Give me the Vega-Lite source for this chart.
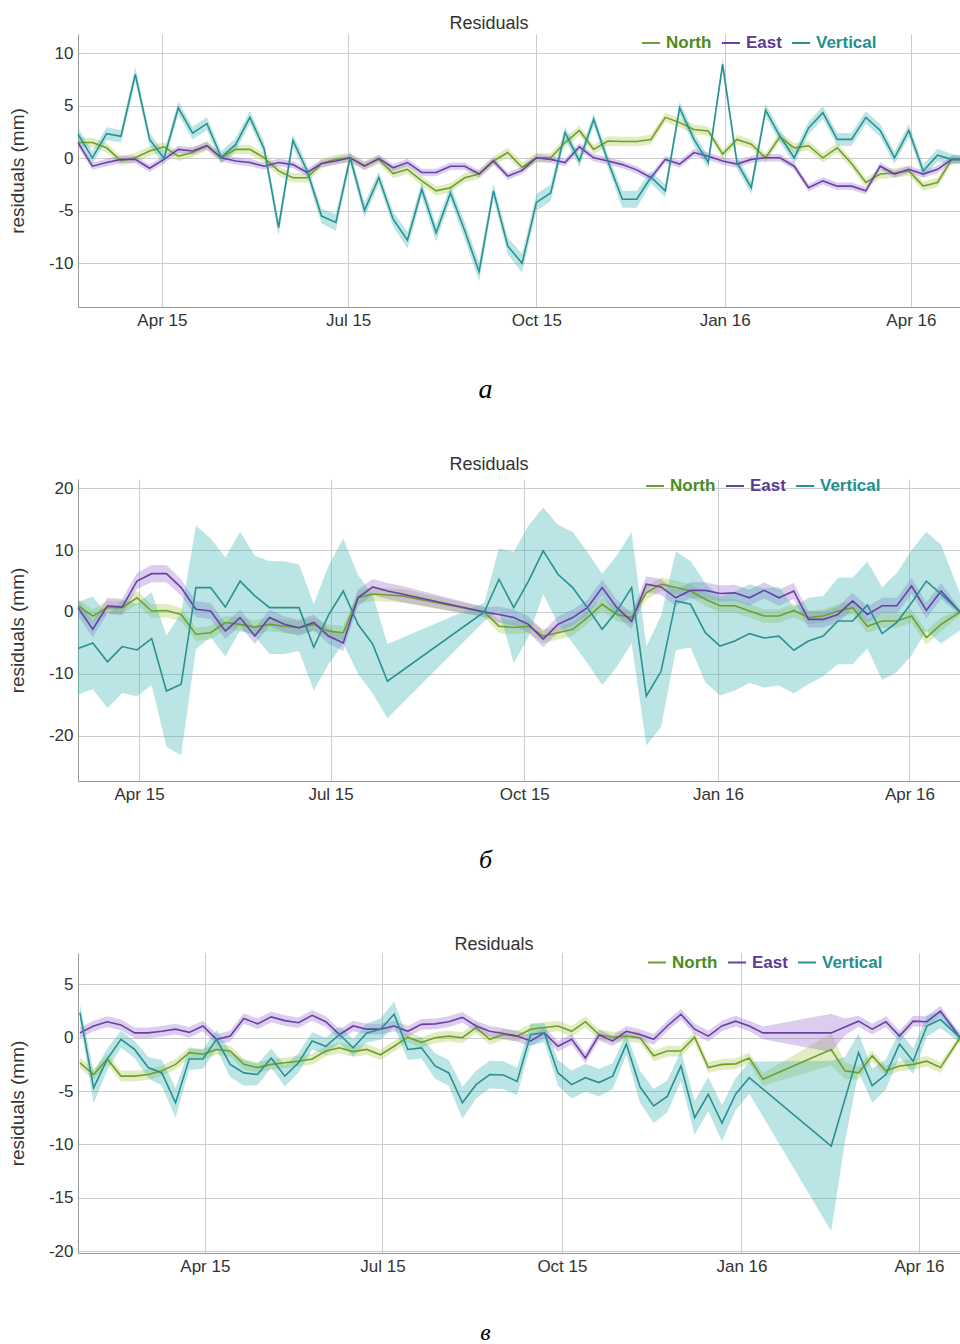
{
"$schema": "https://vega.github.io/schema/vega-lite/v6.json",
"background": "white",
"padding": {"left": 8, "top": 15, "right": 0, "bottom": 0},
"config": {
 "font": "Liberation Sans",
 "view": {"stroke": null},
 "axis": {"grid": true, "gridColor": "#cccccc", "gridWidth": 1, "domainColor": "#999999", "domainWidth": 1, "ticks": false, "labelFontSize": 17, "labelColor": "#333333", "labelPadding": 5, "labelFlush": false, "labelOverlap": false},
 "axisX": {"titleFont": "Liberation Serif", "titleFontStyle": "italic", "titleFontWeight": "normal", "titleColor": "#000000", "titleBaseline": "middle", "titleAlign": "center"},
 "axisY": {"titleFontSize": 19, "titleFontWeight": "normal", "titleColor": "#333333", "titlePadding": 21},
 "title": {"fontSize": 18, "fontWeight": "normal", "color": "#333333", "anchor": "middle", "baseline": "bottom"}
},
"datasets": {
"a": [
{"d":"2015-02-19","s":"N","v":1.5,"e":0.45},{"d":"2015-02-26","s":"N","v":1.5,"e":0.45},{"d":"2015-03-05","s":"N","v":1.0,"e":0.45},{"d":"2015-03-12","s":"N","v":-0.25,"e":0.45},{"d":"2015-03-19","s":"N","v":0.05,"e":0.45},{"d":"2015-03-26","s":"N","v":0.7,"e":0.45},{"d":"2015-04-02","s":"N","v":1.1,"e":0.45},{"d":"2015-04-09","s":"N","v":0.2,"e":0.45},{"d":"2015-04-16","s":"N","v":0.55,"e":0.45},{"d":"2015-04-23","s":"N","v":1.2,"e":0.45},
{"d":"2015-04-30","s":"N","v":0.05,"e":0.45},{"d":"2015-05-07","s":"N","v":0.85,"e":0.45},{"d":"2015-05-14","s":"N","v":0.85,"e":0.45},{"d":"2015-05-21","s":"N","v":0.05,"e":0.45},{"d":"2015-05-28","s":"N","v":-1.2,"e":0.45},{"d":"2015-06-04","s":"N","v":-1.85,"e":0.45},{"d":"2015-06-11","s":"N","v":-1.85,"e":0.45},{"d":"2015-06-18","s":"N","v":-0.5,"e":0.45},{"d":"2015-06-25","s":"N","v":-0.1,"e":0.45},{"d":"2015-07-02","s":"N","v":0.05,"e":0.45},
{"d":"2015-07-09","s":"N","v":-0.7,"e":0.45},{"d":"2015-07-16","s":"N","v":-0.1,"e":0.45},{"d":"2015-07-23","s":"N","v":-1.45,"e":0.45},{"d":"2015-07-30","s":"N","v":-1.05,"e":0.45},{"d":"2015-08-06","s":"N","v":-2.15,"e":0.45},{"d":"2015-08-13","s":"N","v":-3.1,"e":0.45},{"d":"2015-08-20","s":"N","v":-2.8,"e":0.45},{"d":"2015-08-27","s":"N","v":-1.85,"e":0.45},{"d":"2015-09-03","s":"N","v":-1.5,"e":0.45},{"d":"2015-09-10","s":"N","v":-0.25,"e":0.45},
{"d":"2015-09-17","s":"N","v":0.55,"e":0.45},{"d":"2015-09-24","s":"N","v":-0.85,"e":0.45},{"d":"2015-10-01","s":"N","v":0.05,"e":0.45},{"d":"2015-10-08","s":"N","v":0.05,"e":0.45},{"d":"2015-10-15","s":"N","v":1.5,"e":0.45},{"d":"2015-10-22","s":"N","v":2.65,"e":0.45},{"d":"2015-10-29","s":"N","v":0.85,"e":0.45},{"d":"2015-11-05","s":"N","v":1.65,"e":0.45},{"d":"2015-11-12","s":"N","v":1.6,"e":0.45},{"d":"2015-11-19","s":"N","v":1.6,"e":0.45},
{"d":"2015-11-26","s":"N","v":1.8,"e":0.45},{"d":"2015-12-03","s":"N","v":3.9,"e":0.45},{"d":"2015-12-10","s":"N","v":3.4,"e":0.45},{"d":"2015-12-17","s":"N","v":2.75,"e":0.45},{"d":"2015-12-24","s":"N","v":2.6,"e":0.45},{"d":"2015-12-31","s":"N","v":0.4,"e":0.45},{"d":"2016-01-07","s":"N","v":1.8,"e":0.45},{"d":"2016-01-14","s":"N","v":1.35,"e":0.45},{"d":"2016-01-21","s":"N","v":0.05,"e":0.45},{"d":"2016-01-28","s":"N","v":2.05,"e":0.45},
{"d":"2016-02-04","s":"N","v":1.0,"e":0.45},{"d":"2016-02-11","s":"N","v":1.2,"e":0.45},{"d":"2016-02-18","s":"N","v":0.05,"e":0.45},{"d":"2016-02-25","s":"N","v":1.0,"e":0.45},{"d":"2016-03-03","s":"N","v":-0.5,"e":0.45},{"d":"2016-03-10","s":"N","v":-2.3,"e":0.45},{"d":"2016-03-17","s":"N","v":-1.5,"e":0.45},{"d":"2016-03-24","s":"N","v":-1.4,"e":0.45},{"d":"2016-03-31","s":"N","v":-1.2,"e":0.45},{"d":"2016-04-07","s":"N","v":-2.65,"e":0.45},
{"d":"2016-04-14","s":"N","v":-2.3,"e":0.45},{"d":"2016-04-21","s":"N","v":-0.1,"e":0.45},{"d":"2016-04-25","s":"N","v":-0.1,"e":0.4},
{"d":"2015-02-19","s":"E","v":1.5,"e":0.35},{"d":"2015-02-26","s":"E","v":-0.75,"e":0.35},{"d":"2015-03-05","s":"E","v":-0.4,"e":0.35},{"d":"2015-03-12","s":"E","v":-0.1,"e":0.35},{"d":"2015-03-19","s":"E","v":-0.1,"e":0.35},{"d":"2015-03-26","s":"E","v":-0.95,"e":0.35},{"d":"2015-04-02","s":"E","v":-0.1,"e":0.35},{"d":"2015-04-09","s":"E","v":0.85,"e":0.35},{"d":"2015-04-16","s":"E","v":0.7,"e":0.35},{"d":"2015-04-23","s":"E","v":1.2,"e":0.35},
{"d":"2015-04-30","s":"E","v":0.05,"e":0.35},{"d":"2015-05-07","s":"E","v":-0.25,"e":0.35},{"d":"2015-05-14","s":"E","v":-0.4,"e":0.35},{"d":"2015-05-21","s":"E","v":-0.75,"e":0.35},{"d":"2015-05-28","s":"E","v":-0.4,"e":0.35},{"d":"2015-06-04","s":"E","v":-0.6,"e":0.35},{"d":"2015-06-11","s":"E","v":-1.35,"e":0.35},{"d":"2015-06-18","s":"E","v":-0.5,"e":0.35},{"d":"2015-06-25","s":"E","v":-0.25,"e":0.35},{"d":"2015-07-02","s":"E","v":0.05,"e":0.35},
{"d":"2015-07-09","s":"E","v":-0.75,"e":0.35},{"d":"2015-07-16","s":"E","v":0.0,"e":0.35},{"d":"2015-07-23","s":"E","v":-0.9,"e":0.35},{"d":"2015-07-30","s":"E","v":-0.4,"e":0.35},{"d":"2015-08-06","s":"E","v":-1.35,"e":0.35},{"d":"2015-08-13","s":"E","v":-1.35,"e":0.35},{"d":"2015-08-20","s":"E","v":-0.75,"e":0.35},{"d":"2015-08-27","s":"E","v":-0.75,"e":0.35},{"d":"2015-09-03","s":"E","v":-1.5,"e":0.35},{"d":"2015-09-10","s":"E","v":-0.25,"e":0.35},
{"d":"2015-09-17","s":"E","v":-1.7,"e":0.35},{"d":"2015-09-24","s":"E","v":-1.15,"e":0.35},{"d":"2015-10-01","s":"E","v":0.05,"e":0.35},{"d":"2015-10-08","s":"E","v":-0.1,"e":0.35},{"d":"2015-10-15","s":"E","v":-0.4,"e":0.35},{"d":"2015-10-22","s":"E","v":1.1,"e":0.35},{"d":"2015-10-29","s":"E","v":0.05,"e":0.35},{"d":"2015-11-05","s":"E","v":-0.25,"e":0.35},{"d":"2015-11-12","s":"E","v":-0.6,"e":0.35},{"d":"2015-11-19","s":"E","v":-1.1,"e":0.35},
{"d":"2015-11-26","s":"E","v":-1.85,"e":0.35},{"d":"2015-12-03","s":"E","v":-0.1,"e":0.35},{"d":"2015-12-10","s":"E","v":-0.55,"e":0.35},{"d":"2015-12-17","s":"E","v":0.55,"e":0.35},{"d":"2015-12-24","s":"E","v":0.2,"e":0.35},{"d":"2015-12-31","s":"E","v":-0.25,"e":0.35},{"d":"2016-01-07","s":"E","v":-0.55,"e":0.35},{"d":"2016-01-14","s":"E","v":-0.1,"e":0.35},{"d":"2016-01-21","s":"E","v":0.05,"e":0.35},{"d":"2016-01-28","s":"E","v":0.05,"e":0.35},
{"d":"2016-02-04","s":"E","v":-0.75,"e":0.35},{"d":"2016-02-11","s":"E","v":-2.8,"e":0.35},{"d":"2016-02-18","s":"E","v":-2.15,"e":0.35},{"d":"2016-02-25","s":"E","v":-2.65,"e":0.35},{"d":"2016-03-03","s":"E","v":-2.65,"e":0.35},{"d":"2016-03-10","s":"E","v":-3.1,"e":0.35},{"d":"2016-03-17","s":"E","v":-0.75,"e":0.35},{"d":"2016-03-24","s":"E","v":-1.5,"e":0.35},{"d":"2016-03-31","s":"E","v":-1.05,"e":0.35},{"d":"2016-04-07","s":"E","v":-1.5,"e":0.35},
{"d":"2016-04-14","s":"E","v":-1.05,"e":0.35},{"d":"2016-04-21","s":"E","v":-0.1,"e":0.35},{"d":"2016-04-25","s":"E","v":-0.1,"e":0.3},
{"d":"2015-02-19","s":"V","v":2.3,"e":0.6},{"d":"2015-02-26","s":"V","v":0.05,"e":0.6},{"d":"2015-03-05","s":"V","v":2.35,"e":0.6},{"d":"2015-03-12","s":"V","v":2.1,"e":0.6},{"d":"2015-03-19","s":"V","v":8.0,"e":0.7},{"d":"2015-03-26","s":"V","v":1.8,"e":0.6},{"d":"2015-04-02","s":"V","v":0.0,"e":0.6},{"d":"2015-04-09","s":"V","v":4.8,"e":0.6},{"d":"2015-04-16","s":"V","v":2.4,"e":0.6},{"d":"2015-04-23","s":"V","v":3.3,"e":0.6},
{"d":"2015-04-30","s":"V","v":0.1,"e":0.6},{"d":"2015-05-07","s":"V","v":1.3,"e":0.6},{"d":"2015-05-14","s":"V","v":3.9,"e":0.6},{"d":"2015-05-21","s":"V","v":0.9,"e":0.6},{"d":"2015-05-28","s":"V","v":-6.6,"e":0.8},{"d":"2015-06-04","s":"V","v":1.7,"e":0.6},{"d":"2015-06-11","s":"V","v":-1.2,"e":0.6},{"d":"2015-06-18","s":"V","v":-5.5,"e":0.7},{"d":"2015-06-25","s":"V","v":-6.1,"e":0.8},{"d":"2015-07-02","s":"V","v":0.05,"e":0.6},
{"d":"2015-07-09","s":"V","v":-4.95,"e":0.7},{"d":"2015-07-16","s":"V","v":-1.85,"e":0.6},{"d":"2015-07-23","s":"V","v":-5.8,"e":0.7},{"d":"2015-07-30","s":"V","v":-7.8,"e":0.8},{"d":"2015-08-06","s":"V","v":-2.95,"e":0.7},{"d":"2015-08-13","s":"V","v":-7.1,"e":0.8},{"d":"2015-08-20","s":"V","v":-3.3,"e":0.7},{"d":"2015-08-27","s":"V","v":-6.9,"e":0.8},{"d":"2015-09-03","s":"V","v":-10.8,"e":0.9},{"d":"2015-09-10","s":"V","v":-3.1,"e":0.7},
{"d":"2015-09-17","s":"V","v":-8.35,"e":0.8},{"d":"2015-09-24","s":"V","v":-10.0,"e":0.9},{"d":"2015-10-01","s":"V","v":-4.2,"e":0.8},{"d":"2015-10-08","s":"V","v":-3.3,"e":0.8},{"d":"2015-10-15","s":"V","v":2.45,"e":0.6},{"d":"2015-10-22","s":"V","v":-0.25,"e":0.6},{"d":"2015-10-29","s":"V","v":3.7,"e":0.6},{"d":"2015-11-05","s":"V","v":-0.3,"e":0.6},{"d":"2015-11-12","s":"V","v":-3.9,"e":0.8},{"d":"2015-11-19","s":"V","v":-3.9,"e":0.8},
{"d":"2015-11-26","s":"V","v":-1.8,"e":0.6},{"d":"2015-12-03","s":"V","v":-3.1,"e":0.6},{"d":"2015-12-10","s":"V","v":4.8,"e":0.6},{"d":"2015-12-17","s":"V","v":1.8,"e":0.6},{"d":"2015-12-24","s":"V","v":-0.4,"e":0.6},{"d":"2015-12-31","s":"V","v":8.95,"e":0.6},{"d":"2016-01-07","s":"V","v":-0.4,"e":0.6},{"d":"2016-01-14","s":"V","v":-2.8,"e":0.6},{"d":"2016-01-21","s":"V","v":4.6,"e":0.6},{"d":"2016-01-28","s":"V","v":2.1,"e":0.6},
{"d":"2016-02-04","s":"V","v":0.05,"e":0.6},{"d":"2016-02-11","s":"V","v":2.9,"e":0.6},{"d":"2016-02-18","s":"V","v":4.35,"e":0.6},{"d":"2016-02-25","s":"V","v":1.8,"e":0.6},{"d":"2016-03-03","s":"V","v":1.8,"e":0.6},{"d":"2016-03-10","s":"V","v":3.9,"e":0.6},{"d":"2016-03-17","s":"V","v":2.65,"e":0.6},{"d":"2016-03-24","s":"V","v":0.05,"e":0.6},{"d":"2016-03-31","s":"V","v":2.65,"e":0.6},{"d":"2016-04-07","s":"V","v":-1.2,"e":0.6},
{"d":"2016-04-14","s":"V","v":0.3,"e":0.6},{"d":"2016-04-21","s":"V","v":-0.1,"e":0.5},{"d":"2016-04-25","s":"V","v":-0.1,"e":0.4}
],
"b": [
{"d":"2015-03-03","s":"N","v":1.0,"e":1.1},{"d":"2015-03-10","s":"N","v":-0.65,"e":1.1},{"d":"2015-03-17","s":"N","v":0.7,"e":1.1},{"d":"2015-03-24","s":"N","v":0.7,"e":1.1},{"d":"2015-03-31","s":"N","v":2.3,"e":1.1},{"d":"2015-04-07","s":"N","v":0.15,"e":1.1},{"d":"2015-04-14","s":"N","v":0.25,"e":1.1},{"d":"2015-04-21","s":"N","v":-0.4,"e":1.1},{"d":"2015-04-28","s":"N","v":-3.6,"e":1.1},{"d":"2015-05-05","s":"N","v":-3.35,"e":1.1},
{"d":"2015-05-12","s":"N","v":-1.7,"e":1.1},{"d":"2015-05-19","s":"N","v":-2.0,"e":1.1},{"d":"2015-05-26","s":"N","v":-2.45,"e":1.1},{"d":"2015-06-02","s":"N","v":-2.0,"e":1.1},{"d":"2015-06-09","s":"N","v":-2.3,"e":1.1},{"d":"2015-06-16","s":"N","v":-2.55,"e":1.1},{"d":"2015-06-23","s":"N","v":-2.0,"e":1.1},{"d":"2015-06-30","s":"N","v":-3.1,"e":1.1},{"d":"2015-07-07","s":"N","v":-3.35,"e":1.1},{"d":"2015-07-14","s":"N","v":2.3,"e":1.1},
{"d":"2015-07-21","s":"N","v":2.9,"e":1.1},{"d":"2015-07-28","s":"N","v":2.75,"e":1.1},{"d":"2015-08-04","s":"N","v":2.6,"e":1.1},
{"d":"2015-09-12","s":"N","v":0.0,"e":0.8},{"d":"2015-09-19","s":"N","v":-2.3,"e":1.1},{"d":"2015-09-26","s":"N","v":-2.5,"e":1.1},{"d":"2015-10-03","s":"N","v":-2.3,"e":1.1},{"d":"2015-10-10","s":"N","v":-3.9,"e":1.1},{"d":"2015-10-17","s":"N","v":-3.35,"e":1.1},{"d":"2015-10-24","s":"N","v":-2.8,"e":1.1},{"d":"2015-10-31","s":"N","v":-0.9,"e":1.1},{"d":"2015-11-07","s":"N","v":1.25,"e":1.1},{"d":"2015-11-14","s":"N","v":-0.4,"e":1.1},
{"d":"2015-11-21","s":"N","v":-0.9,"e":1.1},{"d":"2015-11-28","s":"N","v":3.1,"e":1.1},{"d":"2015-12-05","s":"N","v":4.5,"e":1.1},{"d":"2015-12-12","s":"N","v":3.95,"e":1.1},{"d":"2015-12-19","s":"N","v":3.4,"e":1.1},{"d":"2015-12-26","s":"N","v":2.05,"e":1.1},{"d":"2016-01-02","s":"N","v":1.0,"e":1.1},{"d":"2016-01-09","s":"N","v":1.0,"e":1.1},{"d":"2016-01-16","s":"N","v":0.15,"e":1.1},{"d":"2016-01-23","s":"N","v":-0.65,"e":1.1},
{"d":"2016-01-30","s":"N","v":-0.65,"e":1.1},{"d":"2016-02-06","s":"N","v":0.25,"e":1.1},{"d":"2016-02-13","s":"N","v":-0.9,"e":1.1},{"d":"2016-02-20","s":"N","v":-0.65,"e":1.1},{"d":"2016-02-27","s":"N","v":0.15,"e":1.1},{"d":"2016-03-05","s":"N","v":0.7,"e":1.1},{"d":"2016-03-12","s":"N","v":-2.3,"e":1.1},{"d":"2016-03-19","s":"N","v":-1.45,"e":1.1},{"d":"2016-03-26","s":"N","v":-1.45,"e":1.1},{"d":"2016-04-02","s":"N","v":-0.65,"e":1.1},
{"d":"2016-04-09","s":"N","v":-4.15,"e":1.1},{"d":"2016-04-16","s":"N","v":-2.0,"e":1.1},{"d":"2016-04-25","s":"N","v":0.0,"e":0.5},
{"d":"2015-03-03","s":"E","v":0.7,"e":1.3},{"d":"2015-03-10","s":"E","v":-2.8,"e":1.3},{"d":"2015-03-17","s":"E","v":1.0,"e":1.3},{"d":"2015-03-24","s":"E","v":0.8,"e":1.3},{"d":"2015-03-31","s":"E","v":5.0,"e":1.3},{"d":"2015-04-07","s":"E","v":6.2,"e":1.4},{"d":"2015-04-14","s":"E","v":6.2,"e":1.4},{"d":"2015-04-21","s":"E","v":3.95,"e":1.3},{"d":"2015-04-28","s":"E","v":0.45,"e":1.3},{"d":"2015-05-05","s":"E","v":0.15,"e":1.3},
{"d":"2015-05-12","s":"E","v":-3.1,"e":1.3},{"d":"2015-05-19","s":"E","v":-0.9,"e":1.3},{"d":"2015-05-26","s":"E","v":-3.9,"e":1.3},{"d":"2015-06-02","s":"E","v":-0.9,"e":1.3},{"d":"2015-06-09","s":"E","v":-2.0,"e":1.3},{"d":"2015-06-16","s":"E","v":-2.55,"e":1.3},{"d":"2015-06-23","s":"E","v":-1.7,"e":1.3},{"d":"2015-06-30","s":"E","v":-3.9,"e":1.3},{"d":"2015-07-07","s":"E","v":-5.0,"e":1.3},{"d":"2015-07-14","s":"E","v":2.3,"e":1.3},
{"d":"2015-07-21","s":"E","v":4.05,"e":1.3},{"d":"2015-07-28","s":"E","v":3.4,"e":1.3},{"d":"2015-08-04","s":"E","v":2.9,"e":1.3},
{"d":"2015-09-12","s":"E","v":0.0,"e":0.8},{"d":"2015-09-19","s":"E","v":-0.4,"e":1.3},{"d":"2015-09-26","s":"E","v":-0.9,"e":1.3},{"d":"2015-10-03","s":"E","v":-2.0,"e":1.3},{"d":"2015-10-10","s":"E","v":-4.4,"e":1.3},{"d":"2015-10-17","s":"E","v":-2.0,"e":1.3},{"d":"2015-10-24","s":"E","v":-0.9,"e":1.3},{"d":"2015-10-31","s":"E","v":0.7,"e":1.3},{"d":"2015-11-07","s":"E","v":3.95,"e":1.3},{"d":"2015-11-14","s":"E","v":0.7,"e":1.3},
{"d":"2015-11-21","s":"E","v":-1.5,"e":1.3},{"d":"2015-11-28","s":"E","v":4.5,"e":1.3},{"d":"2015-12-05","s":"E","v":4.05,"e":1.3},{"d":"2015-12-12","s":"E","v":2.3,"e":1.3},{"d":"2015-12-19","s":"E","v":3.5,"e":1.3},{"d":"2015-12-26","s":"E","v":3.5,"e":1.3},{"d":"2016-01-02","s":"E","v":3.0,"e":1.3},{"d":"2016-01-09","s":"E","v":3.1,"e":1.3},{"d":"2016-01-16","s":"E","v":2.3,"e":1.3},{"d":"2016-01-23","s":"E","v":3.5,"e":1.3},
{"d":"2016-01-30","s":"E","v":2.3,"e":1.3},{"d":"2016-02-06","s":"E","v":3.4,"e":1.3},{"d":"2016-02-13","s":"E","v":-1.2,"e":1.3},{"d":"2016-02-20","s":"E","v":-1.2,"e":1.3},{"d":"2016-02-27","s":"E","v":-0.4,"e":1.3},{"d":"2016-03-05","s":"E","v":1.8,"e":1.3},{"d":"2016-03-12","s":"E","v":-0.4,"e":1.3},{"d":"2016-03-19","s":"E","v":1.0,"e":1.3},{"d":"2016-03-26","s":"E","v":1.0,"e":1.3},{"d":"2016-04-02","s":"E","v":4.2,"e":1.3},
{"d":"2016-04-09","s":"E","v":0.25,"e":1.3},{"d":"2016-04-16","s":"E","v":3.4,"e":1.3},{"d":"2016-04-25","s":"E","v":0.0,"e":0.5},
{"d":"2015-03-03","s":"V","v":-5.9,"e":7.5},{"d":"2015-03-10","s":"V","v":-5.0,"e":7.5},{"d":"2015-03-17","s":"V","v":-8.05,"e":7.5},{"d":"2015-03-24","s":"V","v":-5.6,"e":7.5},{"d":"2015-03-31","s":"V","v":-6.15,"e":7.5},{"d":"2015-04-07","s":"V","v":-4.3,"e":7.5},{"d":"2015-04-14","s":"V","v":-12.8,"e":9},{"d":"2015-04-21","s":"V","v":-11.7,"e":11.5},{"d":"2015-04-28","s":"V","v":3.95,"e":10},{"d":"2015-05-05","s":"V","v":3.95,"e":8},
{"d":"2015-05-12","s":"V","v":0.8,"e":8},{"d":"2015-05-19","s":"V","v":5.0,"e":8},{"d":"2015-05-26","s":"V","v":2.6,"e":6.5},{"d":"2015-06-02","s":"V","v":0.7,"e":7.5},{"d":"2015-06-09","s":"V","v":0.7,"e":7.5},{"d":"2015-06-16","s":"V","v":0.7,"e":7},{"d":"2015-06-23","s":"V","v":-5.7,"e":7},{"d":"2015-06-30","s":"V","v":-0.5,"e":8},{"d":"2015-07-07","s":"V","v":3.4,"e":8.5},{"d":"2015-07-14","s":"V","v":-2.0,"e":8},
{"d":"2015-07-21","s":"V","v":-5.2,"e":8},{"d":"2015-07-28","s":"V","v":-11.2,"e":6},
{"d":"2015-09-12","s":"V","v":0.0,"e":1.5},{"d":"2015-09-19","s":"V","v":5.3,"e":5},{"d":"2015-09-26","s":"V","v":0.7,"e":9},{"d":"2015-10-03","s":"V","v":5.0,"e":9},{"d":"2015-10-10","s":"V","v":9.9,"e":7},{"d":"2015-10-17","s":"V","v":6.1,"e":8},{"d":"2015-10-24","s":"V","v":3.95,"e":9},{"d":"2015-10-31","s":"V","v":0.7,"e":9},{"d":"2015-11-07","s":"V","v":-2.8,"e":9},{"d":"2015-11-14","s":"V","v":0.15,"e":9},
{"d":"2015-11-21","s":"V","v":3.95,"e":9},{"d":"2015-11-28","s":"V","v":-13.6,"e":8},{"d":"2015-12-05","s":"V","v":-9.6,"e":9},{"d":"2015-12-12","s":"V","v":1.8,"e":8},{"d":"2015-12-19","s":"V","v":1.25,"e":7},{"d":"2015-12-26","s":"V","v":-3.35,"e":8},{"d":"2016-01-02","s":"V","v":-5.5,"e":8},{"d":"2016-01-09","s":"V","v":-4.7,"e":8},{"d":"2016-01-16","s":"V","v":-3.5,"e":8},{"d":"2016-01-23","s":"V","v":-4.2,"e":8},
{"d":"2016-01-30","s":"V","v":-3.9,"e":8},{"d":"2016-02-06","s":"V","v":-6.2,"e":7},{"d":"2016-02-13","s":"V","v":-4.7,"e":7},{"d":"2016-02-20","s":"V","v":-3.9,"e":6.5},{"d":"2016-02-27","s":"V","v":-1.45,"e":7},{"d":"2016-03-05","s":"V","v":-1.45,"e":7},{"d":"2016-03-12","s":"V","v":1.15,"e":7},{"d":"2016-03-19","s":"V","v":-3.5,"e":7.5},{"d":"2016-03-26","s":"V","v":-1.7,"e":8},{"d":"2016-04-02","s":"V","v":1.5,"e":8.5},
{"d":"2016-04-09","s":"V","v":5.0,"e":8},{"d":"2016-04-16","s":"V","v":2.9,"e":8},{"d":"2016-04-25","s":"V","v":0.0,"e":3}
],
"c": [
{"d":"2015-01-27","s":"N","v":-2.35,"e":0.5},{"d":"2015-02-03","s":"N","v":-3.45,"e":0.5},{"d":"2015-02-10","s":"N","v":-2.0,"e":0.5},{"d":"2015-02-17","s":"N","v":-3.6,"e":0.5},{"d":"2015-02-24","s":"N","v":-3.6,"e":0.5},{"d":"2015-03-03","s":"N","v":-3.45,"e":0.5},{"d":"2015-03-10","s":"N","v":-3.1,"e":0.5},{"d":"2015-03-17","s":"N","v":-2.5,"e":0.5},{"d":"2015-03-24","s":"N","v":-1.4,"e":0.5},{"d":"2015-03-31","s":"N","v":-1.55,"e":0.5},
{"d":"2015-04-07","s":"N","v":-1.1,"e":0.5},{"d":"2015-04-14","s":"N","v":-1.25,"e":0.5},{"d":"2015-04-21","s":"N","v":-2.5,"e":0.5},{"d":"2015-04-28","s":"N","v":-2.8,"e":0.5},{"d":"2015-05-05","s":"N","v":-2.5,"e":0.5},{"d":"2015-05-12","s":"N","v":-2.35,"e":0.5},{"d":"2015-05-19","s":"N","v":-2.2,"e":0.5},{"d":"2015-05-26","s":"N","v":-2.0,"e":0.5},{"d":"2015-06-02","s":"N","v":-1.25,"e":0.5},{"d":"2015-06-09","s":"N","v":-0.95,"e":0.5},
{"d":"2015-06-16","s":"N","v":-1.3,"e":0.5},{"d":"2015-06-23","s":"N","v":-1.1,"e":0.5},{"d":"2015-06-30","s":"N","v":-1.6,"e":0.5},{"d":"2015-07-07","s":"N","v":-0.8,"e":0.5},{"d":"2015-07-14","s":"N","v":0.05,"e":0.5},{"d":"2015-07-21","s":"N","v":-0.45,"e":0.5},{"d":"2015-07-28","s":"N","v":0.0,"e":0.5},{"d":"2015-08-04","s":"N","v":0.15,"e":0.5},{"d":"2015-08-11","s":"N","v":0.0,"e":0.5},{"d":"2015-08-18","s":"N","v":0.95,"e":0.5},
{"d":"2015-08-25","s":"N","v":-0.15,"e":0.5},{"d":"2015-09-01","s":"N","v":0.3,"e":0.5},{"d":"2015-09-08","s":"N","v":0.15,"e":0.5},{"d":"2015-09-15","s":"N","v":0.8,"e":0.5},{"d":"2015-09-22","s":"N","v":0.95,"e":0.5},{"d":"2015-09-29","s":"N","v":1.1,"e":0.5},{"d":"2015-10-06","s":"N","v":0.6,"e":0.5},{"d":"2015-10-13","s":"N","v":1.5,"e":0.5},{"d":"2015-10-20","s":"N","v":0.3,"e":0.5},{"d":"2015-10-27","s":"N","v":0.05,"e":0.5},
{"d":"2015-11-03","s":"N","v":0.15,"e":0.5},{"d":"2015-11-10","s":"N","v":0.0,"e":0.5},{"d":"2015-11-17","s":"N","v":-1.7,"e":0.5},{"d":"2015-11-24","s":"N","v":-1.25,"e":0.5},{"d":"2015-12-01","s":"N","v":-1.25,"e":0.5},{"d":"2015-12-08","s":"N","v":0.05,"e":0.5},{"d":"2015-12-15","s":"N","v":-2.8,"e":0.5},{"d":"2015-12-22","s":"N","v":-2.5,"e":0.5},{"d":"2015-12-29","s":"N","v":-2.45,"e":0.5},{"d":"2016-01-05","s":"N","v":-1.9,"e":0.5},
{"d":"2016-01-12","s":"N","v":-3.9,"e":0.6},{"d":"2016-02-16","s":"N","v":-1.1,"e":1.5},{"d":"2016-02-23","s":"N","v":-3.1,"e":0.8},{"d":"2016-03-01","s":"N","v":-3.3,"e":0.6},{"d":"2016-03-08","s":"N","v":-1.7,"e":0.5},{"d":"2016-03-15","s":"N","v":-3.1,"e":0.5},{"d":"2016-03-22","s":"N","v":-2.65,"e":0.5},{"d":"2016-03-29","s":"N","v":-2.5,"e":0.5},{"d":"2016-04-05","s":"N","v":-2.2,"e":0.5},{"d":"2016-04-12","s":"N","v":-2.8,"e":0.5},
{"d":"2016-04-22","s":"N","v":0.0,"e":0.3},
{"d":"2015-01-27","s":"E","v":0.45,"e":0.5},{"d":"2015-02-03","s":"E","v":1.1,"e":0.5},{"d":"2015-02-10","s":"E","v":1.5,"e":0.5},{"d":"2015-02-17","s":"E","v":1.2,"e":0.5},{"d":"2015-02-24","s":"E","v":0.45,"e":0.5},{"d":"2015-03-03","s":"E","v":0.45,"e":0.5},{"d":"2015-03-10","s":"E","v":0.6,"e":0.5},{"d":"2015-03-17","s":"E","v":0.8,"e":0.5},{"d":"2015-03-24","s":"E","v":0.5,"e":0.5},{"d":"2015-03-31","s":"E","v":1.1,"e":0.5},
{"d":"2015-04-07","s":"E","v":-0.15,"e":0.5},{"d":"2015-04-14","s":"E","v":0.15,"e":0.5},{"d":"2015-04-21","s":"E","v":1.8,"e":0.5},{"d":"2015-04-28","s":"E","v":1.3,"e":0.5},{"d":"2015-05-05","s":"E","v":1.95,"e":0.5},{"d":"2015-05-12","s":"E","v":1.6,"e":0.5},{"d":"2015-05-19","s":"E","v":1.4,"e":0.5},{"d":"2015-05-26","s":"E","v":2.1,"e":0.5},{"d":"2015-06-02","s":"E","v":1.5,"e":0.5},{"d":"2015-06-09","s":"E","v":0.3,"e":0.5},
{"d":"2015-06-16","s":"E","v":1.1,"e":0.5},{"d":"2015-06-23","s":"E","v":0.8,"e":0.5},{"d":"2015-06-30","s":"E","v":0.8,"e":0.5},{"d":"2015-07-07","s":"E","v":1.1,"e":0.5},{"d":"2015-07-14","s":"E","v":0.6,"e":0.5},{"d":"2015-07-21","s":"E","v":1.25,"e":0.5},{"d":"2015-07-28","s":"E","v":1.3,"e":0.5},{"d":"2015-08-04","s":"E","v":1.5,"e":0.5},{"d":"2015-08-11","s":"E","v":1.9,"e":0.5},{"d":"2015-08-18","s":"E","v":1.1,"e":0.5},
{"d":"2015-08-25","s":"E","v":0.6,"e":0.5},{"d":"2015-09-01","s":"E","v":0.4,"e":0.5},{"d":"2015-09-08","s":"E","v":0.15,"e":0.5},{"d":"2015-09-15","s":"E","v":-0.3,"e":0.5},{"d":"2015-09-22","s":"E","v":0.45,"e":0.5},{"d":"2015-09-29","s":"E","v":-0.8,"e":0.5},{"d":"2015-10-06","s":"E","v":-0.15,"e":0.5},{"d":"2015-10-13","s":"E","v":-1.9,"e":0.5},{"d":"2015-10-20","s":"E","v":0.25,"e":0.5},{"d":"2015-10-27","s":"E","v":-0.3,"e":0.5},
{"d":"2015-11-03","s":"E","v":0.6,"e":0.5},{"d":"2015-11-10","s":"E","v":0.3,"e":0.5},{"d":"2015-11-17","s":"E","v":-0.15,"e":0.5},{"d":"2015-11-24","s":"E","v":1.1,"e":0.5},{"d":"2015-12-01","s":"E","v":2.2,"e":0.5},{"d":"2015-12-08","s":"E","v":0.8,"e":0.5},{"d":"2015-12-15","s":"E","v":0.15,"e":0.5},{"d":"2015-12-22","s":"E","v":1.1,"e":0.5},{"d":"2015-12-29","s":"E","v":1.55,"e":0.5},{"d":"2016-01-05","s":"E","v":1.1,"e":0.5},
{"d":"2016-01-12","s":"E","v":0.45,"e":0.6},{"d":"2016-02-16","s":"E","v":0.45,"e":1.8},{"d":"2016-02-23","s":"E","v":1.0,"e":0.8},{"d":"2016-03-01","s":"E","v":1.55,"e":0.5},{"d":"2016-03-08","s":"E","v":0.8,"e":0.5},{"d":"2016-03-15","s":"E","v":1.5,"e":0.5},{"d":"2016-03-22","s":"E","v":0.15,"e":0.5},{"d":"2016-03-29","s":"E","v":1.55,"e":0.5},{"d":"2016-04-05","s":"E","v":1.5,"e":0.5},{"d":"2016-04-12","s":"E","v":2.5,"e":0.5},
{"d":"2016-04-22","s":"E","v":0.0,"e":0.3},
{"d":"2015-01-27","s":"V","v":2.35,"e":0.8},{"d":"2015-02-03","s":"V","v":-4.7,"e":1.5},{"d":"2015-02-10","s":"V","v":-2.0,"e":1.0},{"d":"2015-02-17","s":"V","v":-0.15,"e":0.8},{"d":"2015-02-24","s":"V","v":-1.1,"e":0.8},{"d":"2015-03-03","s":"V","v":-2.8,"e":1.0},{"d":"2015-03-10","s":"V","v":-3.3,"e":1.2},{"d":"2015-03-17","s":"V","v":-6.1,"e":1.4},{"d":"2015-03-24","s":"V","v":-2.0,"e":1.0},{"d":"2015-03-31","s":"V","v":-2.0,"e":0.9},
{"d":"2015-04-07","s":"V","v":-0.15,"e":0.9},{"d":"2015-04-14","s":"V","v":-2.5,"e":1.2},{"d":"2015-04-21","s":"V","v":-3.3,"e":1.2},{"d":"2015-04-28","s":"V","v":-3.45,"e":1.0},{"d":"2015-05-05","s":"V","v":-1.9,"e":0.9},{"d":"2015-05-12","s":"V","v":-3.6,"e":1.0},{"d":"2015-05-19","s":"V","v":-2.35,"e":0.9},{"d":"2015-05-26","s":"V","v":-0.3,"e":0.8},{"d":"2015-06-02","s":"V","v":-0.8,"e":0.8},{"d":"2015-06-09","s":"V","v":0.3,"e":0.8},
{"d":"2015-06-16","s":"V","v":-0.95,"e":0.8},{"d":"2015-06-23","s":"V","v":0.45,"e":0.9},{"d":"2015-06-30","s":"V","v":0.8,"e":1.0},{"d":"2015-07-07","s":"V","v":2.2,"e":1.2},{"d":"2015-07-14","s":"V","v":-1.1,"e":1.0},{"d":"2015-07-21","s":"V","v":-0.95,"e":1.0},{"d":"2015-07-28","s":"V","v":-2.65,"e":1.2},{"d":"2015-08-04","s":"V","v":-3.3,"e":1.2},{"d":"2015-08-11","s":"V","v":-6.1,"e":1.5},{"d":"2015-08-18","s":"V","v":-4.4,"e":1.3},
{"d":"2015-08-25","s":"V","v":-3.45,"e":1.3},{"d":"2015-09-01","s":"V","v":-3.5,"e":1.3},{"d":"2015-09-08","s":"V","v":-4.1,"e":1.3},{"d":"2015-09-15","s":"V","v":0.3,"e":1.0},{"d":"2015-09-22","s":"V","v":0.45,"e":0.9},{"d":"2015-09-29","s":"V","v":-3.3,"e":1.2},{"d":"2015-10-06","s":"V","v":-4.4,"e":1.3},{"d":"2015-10-13","s":"V","v":-3.75,"e":1.3},{"d":"2015-10-20","s":"V","v":-4.2,"e":1.3},{"d":"2015-10-27","s":"V","v":-3.6,"e":1.2},
{"d":"2015-11-03","s":"V","v":-0.6,"e":1.0},{"d":"2015-11-10","s":"V","v":-4.6,"e":1.5},{"d":"2015-11-17","s":"V","v":-6.4,"e":1.6},{"d":"2015-11-24","s":"V","v":-5.5,"e":1.5},{"d":"2015-12-01","s":"V","v":-2.65,"e":1.4},{"d":"2015-12-08","s":"V","v":-7.5,"e":1.6},{"d":"2015-12-15","s":"V","v":-5.3,"e":1.6},{"d":"2015-12-22","s":"V","v":-8.0,"e":1.7},{"d":"2015-12-29","s":"V","v":-5.3,"e":1.5},{"d":"2016-01-05","s":"V","v":-3.75,"e":1.5},
{"d":"2016-02-16","s":"V","v":-10.15,"e":8},{"d":"2016-02-23","s":"V","v":-5.8,"e":4},{"d":"2016-03-01","s":"V","v":-1.4,"e":1.8},{"d":"2016-03-08","s":"V","v":-4.5,"e":1.6},{"d":"2016-03-15","s":"V","v":-3.45,"e":1.4},{"d":"2016-03-22","s":"V","v":-0.6,"e":1.2},{"d":"2016-03-29","s":"V","v":-2.2,"e":1.2},{"d":"2016-04-05","s":"V","v":1.1,"e":1.0},{"d":"2016-04-12","s":"V","v":1.7,"e":0.8},{"d":"2016-04-22","s":"V","v":0.0,"e":0.5}
]
},
"vconcat": [
{
 "width": 882, "height": 273,
 "data": {"name": "a"},
 "title": {"text": "Residuals", "offset": 0, "dx": -30},
 "layer": [
  {"mark": {"type": "errorband", "opacity": 0.35},
   "encoding": {
    "x": {"field": "d", "type": "temporal", "scale": {"type": "utc", "nice": false, "domain": [{"year": 2015, "month": 2, "date": 19, "utc": true}, {"year": 2016, "month": 4, "date": 25, "utc": true}]}, "axis": {"values": [{"year": 2015, "month": 4, "date": 1, "utc": true}, {"year": 2015, "month": 7, "date": 1, "utc": true}, {"year": 2015, "month": 10, "date": 1, "utc": true}, {"year": 2016, "month": 1, "date": 1, "utc": true}, {"year": 2016, "month": 4, "date": 1, "utc": true}], "labelExpr": "utcFormat(datum.value, '%b %y')", "title": "а", "titleFontSize": 28, "titleX": 407, "titleY": 82}},
    "y": {"field": "v", "type": "quantitative", "scale": {"domain": [-14.16, 11.84], "nice": false, "zero": false}, "axis": {"values": [-10, -5, 0, 5, 10], "labelExpr": "'' + datum.value", "title": "residuals (mm)"}},
    "yError": {"field": "e"},
    "color": {"field": "s", "type": "nominal", "scale": {"range": ["#9b6fd0", "#a8c84a", "#3cb4b4"]}, "legend": null}
   }},
  {"mark": {"type": "line", "strokeWidth": 1.6},
   "encoding": {
    "x": {"field": "d", "type": "temporal", "scale": {"type": "utc", "nice": false, "domain": [{"year": 2015, "month": 2, "date": 19, "utc": true}, {"year": 2016, "month": 4, "date": 25, "utc": true}]}, "axis": {"values": [{"year": 2015, "month": 4, "date": 1, "utc": true}, {"year": 2015, "month": 7, "date": 1, "utc": true}, {"year": 2015, "month": 10, "date": 1, "utc": true}, {"year": 2016, "month": 1, "date": 1, "utc": true}, {"year": 2016, "month": 4, "date": 1, "utc": true}], "labelExpr": "utcFormat(datum.value, '%b %y')", "title": "а", "titleFontSize": 28, "titleX": 407, "titleY": 82}},
    "y": {"field": "v", "type": "quantitative", "scale": {"domain": [-14.16, 11.84], "nice": false, "zero": false}, "axis": {"values": [-10, -5, 0, 5, 10], "labelExpr": "'' + datum.value", "title": "residuals (mm)"}},
    "stroke": {"field": "s", "type": "nominal", "scale": {"domain": ["N", "E", "V"], "range": ["#6f9f2e", "#6a40a6", "#2a9090"]},
     "legend": {"title": null, "orient": "none", "legendX": 563, "legendY": -1, "direction": "horizontal", "symbolType": "stroke", "symbolSize": 324, "symbolStrokeWidth": 2, "labelFontSize": 17, "labelFontWeight": "bold", "labelOffset": 5, "columnPadding": 6, "padding": 0, "labelExpr": "datum.value == 'N' ? 'North' : datum.value == 'E' ? 'East' : 'Vertical'", "encode": {"labels": {"update": {"fill": {"signal": "datum.value == 'N' ? '#4c8c1c' : datum.value == 'E' ? '#5c3a94' : '#229090'"}}}}}}
   }}
 ]
},
{
 "width": 882, "height": 302,
 "data": {"name": "b"},
 "title": {"text": "Residuals", "offset": 2, "dx": -30},
 "layer": [
  {"mark": {"type": "errorband", "opacity": 0.35},
   "encoding": {
    "x": {"field": "d", "type": "temporal", "scale": {"type": "utc", "nice": false, "domain": [{"year": 2015, "month": 3, "date": 3, "utc": true}, {"year": 2016, "month": 4, "date": 25, "utc": true}]}, "axis": {"values": [{"year": 2015, "month": 4, "date": 1, "utc": true}, {"year": 2015, "month": 7, "date": 1, "utc": true}, {"year": 2015, "month": 10, "date": 1, "utc": true}, {"year": 2016, "month": 1, "date": 1, "utc": true}, {"year": 2016, "month": 4, "date": 1, "utc": true}], "labelExpr": "utcFormat(datum.value, '%b %y')", "title": "б", "titleFontSize": 26, "titleX": 407, "titleY": 78}},
    "y": {"field": "v", "type": "quantitative", "scale": {"domain": [-27.35, 21.52], "nice": false, "zero": false}, "axis": {"values": [-20, -10, 0, 10, 20], "labelExpr": "'' + datum.value", "title": "residuals (mm)"}},
    "yError": {"field": "e"},
    "color": {"field": "s", "type": "nominal", "scale": {"range": ["#9b6fd0", "#a8c84a", "#3cb4b4"]}, "legend": null}
   }},
  {"mark": {"type": "line", "strokeWidth": 1.6},
   "encoding": {
    "x": {"field": "d", "type": "temporal", "scale": {"type": "utc", "nice": false, "domain": [{"year": 2015, "month": 3, "date": 3, "utc": true}, {"year": 2016, "month": 4, "date": 25, "utc": true}]}, "axis": {"values": [{"year": 2015, "month": 4, "date": 1, "utc": true}, {"year": 2015, "month": 7, "date": 1, "utc": true}, {"year": 2015, "month": 10, "date": 1, "utc": true}, {"year": 2016, "month": 1, "date": 1, "utc": true}, {"year": 2016, "month": 4, "date": 1, "utc": true}], "labelExpr": "utcFormat(datum.value, '%b %y')", "title": "б", "titleFontSize": 26, "titleX": 407, "titleY": 78}},
    "y": {"field": "v", "type": "quantitative", "scale": {"domain": [-27.35, 21.52], "nice": false, "zero": false}, "axis": {"values": [-20, -10, 0, 10, 20], "labelExpr": "'' + datum.value", "title": "residuals (mm)"}},
    "stroke": {"field": "s", "type": "nominal", "scale": {"domain": ["N", "E", "V"], "range": ["#6f9f2e", "#6a40a6", "#2a9090"]},
     "legend": {"title": null, "orient": "none", "legendX": 567, "legendY": -3, "direction": "horizontal", "symbolType": "stroke", "symbolSize": 324, "symbolStrokeWidth": 2, "labelFontSize": 17, "labelFontWeight": "bold", "labelOffset": 5, "columnPadding": 6, "padding": 0, "labelExpr": "datum.value == 'N' ? 'North' : datum.value == 'E' ? 'East' : 'Vertical'", "encode": {"labels": {"update": {"fill": {"signal": "datum.value == 'N' ? '#4c8c1c' : datum.value == 'E' ? '#5c3a94' : '#229090'"}}}}}}
   }}
 ]
},
{
 "width": 882, "height": 300,
 "data": {"name": "c"},
 "title": {"text": "Residuals", "offset": 0, "dx": -25, "dy": 1},
 "layer": [
  {"mark": {"type": "errorband", "opacity": 0.35},
   "encoding": {
    "x": {"field": "d", "type": "temporal", "scale": {"type": "utc", "nice": false, "domain": [{"year": 2015, "month": 1, "date": 26, "utc": true}, {"year": 2016, "month": 4, "date": 22, "utc": true}]}, "axis": {"values": [{"year": 2015, "month": 4, "date": 1, "utc": true}, {"year": 2015, "month": 7, "date": 1, "utc": true}, {"year": 2015, "month": 10, "date": 1, "utc": true}, {"year": 2016, "month": 1, "date": 1, "utc": true}, {"year": 2016, "month": 4, "date": 1, "utc": true}], "labelExpr": "utcFormat(datum.value, '%b %y')", "title": "в", "titleFontSize": 24, "titleX": 407, "titleY": 79}},
    "y": {"field": "v", "type": "quantitative", "scale": {"domain": [-20.18, 7.94], "nice": false, "zero": false}, "axis": {"values": [-20, -15, -10, -5, 0, 5], "labelExpr": "'' + datum.value", "title": "residuals (mm)"}},
    "yError": {"field": "e"},
    "color": {"field": "s", "type": "nominal", "scale": {"range": ["#9b6fd0", "#a8c84a", "#3cb4b4"]}, "legend": null}
   }},
  {"mark": {"type": "line", "strokeWidth": 1.6},
   "encoding": {
    "x": {"field": "d", "type": "temporal", "scale": {"type": "utc", "nice": false, "domain": [{"year": 2015, "month": 1, "date": 26, "utc": true}, {"year": 2016, "month": 4, "date": 22, "utc": true}]}, "axis": {"values": [{"year": 2015, "month": 4, "date": 1, "utc": true}, {"year": 2015, "month": 7, "date": 1, "utc": true}, {"year": 2015, "month": 10, "date": 1, "utc": true}, {"year": 2016, "month": 1, "date": 1, "utc": true}, {"year": 2016, "month": 4, "date": 1, "utc": true}], "labelExpr": "utcFormat(datum.value, '%b %y')", "title": "в", "titleFontSize": 24, "titleX": 407, "titleY": 79}},
    "y": {"field": "v", "type": "quantitative", "scale": {"domain": [-20.18, 7.94], "nice": false, "zero": false}, "axis": {"values": [-20, -15, -10, -5, 0, 5], "labelExpr": "'' + datum.value", "title": "residuals (mm)"}},
    "stroke": {"field": "s", "type": "nominal", "scale": {"domain": ["N", "E", "V"], "range": ["#6f9f2e", "#6a40a6", "#2a9090"]},
     "legend": {"title": null, "orient": "none", "legendX": 569, "legendY": -0.5, "direction": "horizontal", "symbolType": "stroke", "symbolSize": 324, "symbolStrokeWidth": 2, "labelFontSize": 17, "labelFontWeight": "bold", "labelOffset": 5, "columnPadding": 6, "padding": 0, "labelExpr": "datum.value == 'N' ? 'North' : datum.value == 'E' ? 'East' : 'Vertical'", "encode": {"labels": {"update": {"fill": {"signal": "datum.value == 'N' ? '#4c8c1c' : datum.value == 'E' ? '#5c3a94' : '#229090'"}}}}}}
   }}
 ]
}
],
"spacing": 172,
"bounds": "flush",
"resolve": {"scale": {"x": "independent", "y": "independent", "color": "independent", "stroke": "independent"}, "legend": {"color": "independent", "stroke": "independent"}}
}
